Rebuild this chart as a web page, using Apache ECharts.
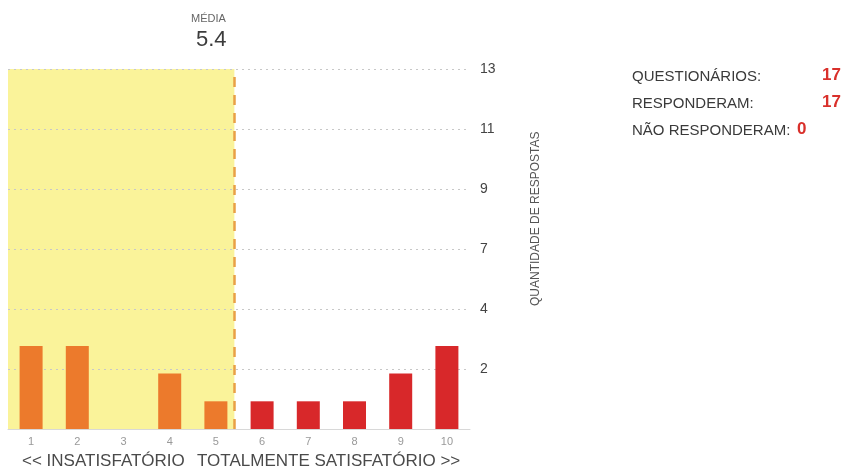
<!DOCTYPE html>
<html>
<head>
<meta charset="utf-8">
<script src="https://cdn.jsdelivr.net/npm/echarts@6/dist/echarts.min.js"></script>
<style>
html,body{margin:0;padding:0;background:#fff;}
#chart{width:867px;height:472px;}
</style>
</head>
<body>
<div id="chart"></div>
<script>
var categories = ["1","2","3","4","5","6","7","8","9","10"];
var responses = [3, 3, 0, 2, 1, 1, 1, 1, 2, 3];
var yTickLabels = ["", "2", "4", "7", "9", "11", "13"];
var yMax = 13;
var meanValue = 5.4;
var summaryLabels = ["QUESTIONÁRIOS:", "RESPONDERAM:", "NÃO RESPONDERAM:"];
var summaryValues = ["17", "17", "0"];
var scaleLeft = "<< INSATISFATÓRIO";
var scaleRight = "TOTALMENTE SATISFATÓRIO >>";
var yAxisTitle = "QUANTIDADE DE RESPOSTAS";

var FONT = "Liberation Sans, Arial, sans-serif";
var ORANGE = "#EC7A2C";
var RED = "#D8282A";

var chart = echarts.init(document.getElementById("chart"), null, {renderer: "canvas"});

var barData = categories.map(function (c, i) {
  return {
    value: responses[i],
    itemStyle: {color: Number(c) < meanValue ? ORANGE : RED}
  };
});

var summaryGraphics = [];
summaryLabels.forEach(function (t, i) {
  summaryGraphics.push({
    type: "text", left: 632, top: 69 + i * 27,
    style: {text: t, fill: "#3a3a3a", font: "15px " + FONT}
  });
});
var valueX = [822, 822, 797];
summaryValues.forEach(function (t, i) {
  summaryGraphics.push({
    type: "text", left: valueX[i], top: 67 + i * 27,
    style: {text: t, fill: "#D9302B", font: "bold 17px " + FONT}
  });
});

chart.setOption({
  animation: false,
  backgroundColor: "#ffffff",
  grid: {left: 8, top: 69, width: 462, height: 360, containLabel: false},
  xAxis: [{
    type: "category",
    data: categories,
    boundaryGap: true,
    axisLine: {show: true, lineStyle: {color: "#d8d8d8", width: 1}},
    axisTick: {show: false},
    axisLabel: {color: "#999", fontSize: 11, fontFamily: FONT, margin: 7},
    splitLine: {show: false},
    z: 2
  }, {
    type: "value",
    min: 0.5,
    max: 10.5,
    show: false,
    splitLine: {show: false}
  }],
  yAxis: {
    type: "value",
    position: "right",
    min: 0,
    max: yMax,
    interval: yMax / 6,
    z: 2,
    axisLine: {show: false},
    axisTick: {show: false},
    axisLabel: {
      color: "#444", fontSize: 14, fontFamily: FONT, margin: 10,
      padding: [0, 0, 8, 0],
      formatter: function (v, idx) { return yTickLabels[idx] || ""; }
    },
    splitLine: {show: true, lineStyle: {color: "#c8c8c8", type: [2, 4], width: 1}}
  },
  series: [{
    type: "line",
    xAxisIndex: 1,
    data: [],
    z: 1,
    silent: true,
    markArea: {
      silent: true,
      itemStyle: {color: "#FAF39A"},
      data: [[{xAxis: 0.5, yAxis: 0}, {xAxis: meanValue, yAxis: yMax}]]
    },
    markLine: {
      silent: true,
      symbol: "none",
      label: {show: false},
      lineStyle: {color: "#E9A046", type: [10, 8], width: 2.5},
      data: [{xAxis: meanValue}]
    }
  }, {
    type: "bar",
    xAxisIndex: 0,
    data: barData,
    barWidth: 23,
    z: 3
  }],
  graphic: [
    {type: "text", left: 191, top: 13, style: {text: "MÉDIA", fill: "#666", font: "11px " + FONT}},
    {type: "text", left: 196, top: 29, style: {text: meanValue.toFixed(1), fill: "#3c3c3c", font: "22px " + FONT}},
    {type: "text", left: 22, top: 453, style: {text: scaleLeft, fill: "#4a4a4a", font: "17px " + FONT}},
    {type: "text", left: 197, top: 453, style: {text: scaleRight, fill: "#4a4a4a", font: "17px " + FONT}},
    {type: "text", x: 530, y: 306, rotation: Math.PI / 2,
      style: {text: yAxisTitle, fill: "#555", font: "12px " + FONT, textAlign: "left", textVerticalAlign: "top"}}
  ].concat(summaryGraphics)
});
</script>
</body>
</html>
